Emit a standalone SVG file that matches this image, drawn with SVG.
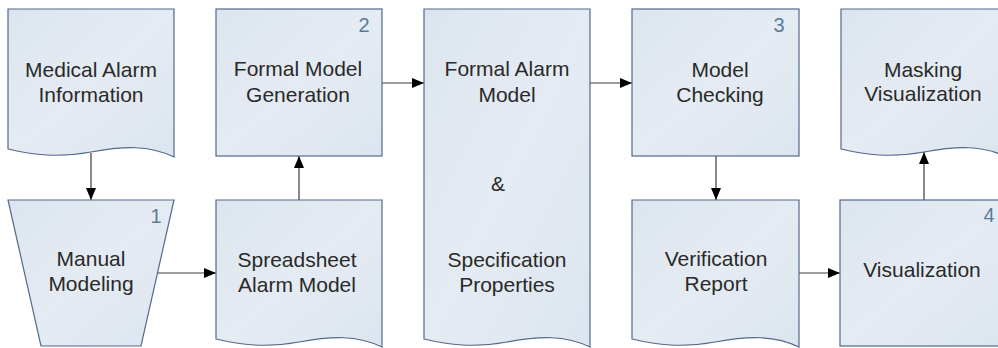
<svg xmlns="http://www.w3.org/2000/svg" width="998" height="348" viewBox="0 0 998 348">
<style>
.shape{fill:url(#g);stroke:#53698a;stroke-width:1.2}
.t{font-family:"Liberation Sans",Arial,sans-serif;font-size:21px;fill:#2a2a2a;text-anchor:middle}
.n{font-family:"Liberation Sans",Arial,sans-serif;font-size:20px;fill:#5a7c98;text-anchor:middle}
.c{stroke:#3a3a3a;stroke-width:1.2;fill:none;marker-end:url(#ah)}
</style>
<defs>
<linearGradient id="g" x1="0" y1="0" x2="1" y2="1">
<stop offset="0" stop-color="#dce5ef"/>
<stop offset="0.5" stop-color="#e5ebf2"/>
<stop offset="1" stop-color="#dce5ef"/>
</linearGradient>
<marker id="ah" markerUnits="userSpaceOnUse" markerWidth="12" markerHeight="10" refX="12" refY="5" orient="auto">
<path d="M0,0 L12,5 L0,10 Z" fill="#000"/>
</marker>
</defs>
<g id="connectors">
<line class="c" x1="91" y1="153" x2="91" y2="200"/>
<line class="c" x1="158" y1="273" x2="216" y2="273"/>
<line class="c" x1="299" y1="200" x2="299" y2="156"/>
<line class="c" x1="382" y1="83" x2="424" y2="83"/>
<line class="c" x1="590" y1="83" x2="632" y2="83"/>
<line class="c" x1="716" y1="156" x2="716" y2="200"/>
<line class="c" x1="799" y1="273" x2="840" y2="273"/>
<line class="c" x1="924" y1="200" x2="924" y2="152"/>
</g>
<g id="medical-alarm-information">
<path class="shape" d="M8,9 V149 C33,155 58,158 91,152 S149,145 174,157 V9 Z"/>
<text class="t" x="91" y="77">Medical Alarm</text>
<text class="t" x="91" y="102">Information</text>
</g>
<g id="manual-modeling">
<path class="shape" d="M8,200 H174 L141,346 H41 Z"/>
<text class="n" x="156" y="223">1</text>
<text class="t" x="91" y="266">Manual</text>
<text class="t" x="91" y="291">Modeling</text>
</g>
<g id="formal-model-generation">
<rect class="shape" x="216" y="9" width="166" height="147"/>
<text class="n" x="364" y="32">2</text>
<text class="t" x="298" y="76">Formal Model</text>
<text class="t" x="298" y="102">Generation</text>
</g>
<g id="spreadsheet-alarm-model">
<path class="shape" d="M216,200 V339 C241,345 266,348 299,342 S357,335 382,347 V200 Z"/>
<text class="t" x="297" y="267">Spreadsheet</text>
<text class="t" x="297" y="292">Alarm Model</text>
</g>
<g id="formal-alarm-model">
<path class="shape" d="M424,9 V339 C449,345 474,348 507,342 S565,335 590,347 V9 Z"/>
<text class="t" x="507" y="76">Formal Alarm</text>
<text class="t" x="507" y="102">Model</text>
<text class="t" x="498" y="191">&amp;</text>
<text class="t" x="507" y="267">Specification</text>
<text class="t" x="507" y="292">Properties</text>
</g>
<g id="model-checking">
<rect class="shape" x="632" y="9" width="167" height="147"/>
<text class="n" x="779" y="32">3</text>
<text class="t" x="720" y="77">Model</text>
<text class="t" x="720" y="102">Checking</text>
</g>
<g id="verification-report">
<path class="shape" d="M632,200 V339 C657,345 682,348 715,342 S774,335 799,347 V200 Z"/>
<text class="t" x="716" y="266">Verification</text>
<text class="t" x="716" y="291">Report</text>
</g>
<g id="visualization">
<rect class="shape" x="840" y="200" width="167" height="146"/>
<text class="n" x="989" y="222">4</text>
<text class="t" x="922" y="277">Visualization</text>
</g>
<g id="masking-visualization">
<path class="shape" d="M841,9 V149 C866,155 891,158 924,152 S982,145 1007,157 V9 Z"/>
<text class="t" x="923" y="77">Masking</text>
<text class="t" x="923" y="101">Visualization</text>
</g>
</svg>
